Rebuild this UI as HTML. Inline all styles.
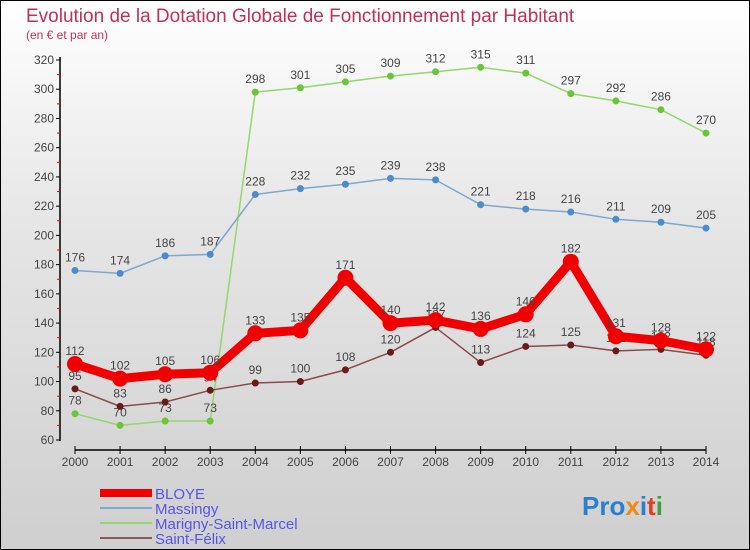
<!DOCTYPE html>
<html><head><meta charset="utf-8"><style>
body{margin:0}
#c{width:750px;height:550px;position:relative;box-sizing:border-box;border:1px solid #000;background:linear-gradient(#ffffff,#e6e6e6 40%,#cfcfcf);font-family:"Liberation Sans",sans-serif;overflow:hidden}
</style></head><body>
<div id="c">
<svg width="750" height="550" id="s" style="position:absolute;left:-1px;top:-1px">
<text x="26" y="22" font-size="19" fill="#c0305a">Evolution de la Dotation Globale de Fonctionnement par Habitant</text>
<text x="26" y="39" font-size="12" fill="#c0305a">(en € et par an)</text>
<g id="axes"></g><g id="series"></g>
<g>
<line x1="100" y1="493" x2="152" y2="493" stroke="#f00000" stroke-width="8"/>
<text x="155" y="499" font-size="15" fill="#5555ee">BLOYE</text>
<line x1="100" y1="508" x2="152" y2="508" stroke="#7fa8cc" stroke-width="2"/>
<text x="155" y="514" font-size="15" fill="#5555ee">Massingy</text>
<line x1="100" y1="523" x2="152" y2="523" stroke="#92d86a" stroke-width="2"/>
<text x="155" y="529" font-size="15" fill="#5555ee">Marigny-Saint-Marcel</text>
<line x1="100" y1="538" x2="152" y2="538" stroke="#8a5a5a" stroke-width="2"/>
<text x="155" y="544" font-size="15" fill="#5555ee">Saint-Félix</text>
</g>
<text x="582" y="515" font-size="26" font-weight="bold"><tspan fill="#2a7fd4">Pro</tspan><tspan fill="#f08a10">x</tspan><tspan fill="#2a7fd4">i</tspan><tspan fill="#e04020">t</tspan><tspan fill="#40a040">i</tspan></text>
</svg>
</div>
<script>
const years=[2000,2001,2002,2003,2004,2005,2006,2007,2008,2009,2010,2011,2012,2013,2014];
const yTicks=[60,80,100,120,140,160,180,200,220,240,260,280,300,320];
const bloye=[112,102,105,106,133,135,171,140,142,136,146,182,131,128,122];
const massingy=[176,174,186,187,228,232,235,239,238,221,218,216,211,209,205];
const marigny=[78,70,73,73,298,301,305,309,312,315,311,297,292,286,270];
const felix=[95,83,86,94,99,100,108,120,137,113,124,125,121,122,118];
const NS="http://www.w3.org/2000/svg";
const X=i=>75+i*(706-75)/14;
const Y=v=>440-(v-60)*380/260;
function mk(t,a,p){const e=document.createElementNS(NS,t);for(const k in a)e.setAttribute(k,a[k]);p.appendChild(e);return e;}
const ax=document.getElementById('axes');
let l=mk('line',{x1:60,y1:57,x2:60,y2:441,stroke:'#000','stroke-width':1.5},ax);


yTicks.forEach(v=>{
 mk('line',{x1:56,y1:Y(v),x2:60,y2:Y(v),stroke:'#000'},ax);
 if(v<320) mk('line',{x1:57,y1:Y(v+10),x2:60,y2:Y(v+10),stroke:'#f00'},ax);
 const t=mk('text',{x:54,y:Y(v)+4,'font-size':12,fill:'#444','text-anchor':'end'},ax);t.textContent=v;
 
 
});
l=mk('line',{x1:75,y1:450,x2:706,y2:450,stroke:'#000','stroke-width':1.5},ax);


years.forEach((yr,i)=>{
 mk('line',{x1:X(i),y1:446,x2:X(i),y2:454,stroke:'#000'},ax);
 const t=mk('text',{x:X(i),y:466,'font-size':12,fill:'#444','text-anchor':'middle'},ax);t.textContent=yr;
 
 
});
const sg=document.getElementById('series');
function series(d,name,col,dot,w,r){
 const g=mk('g',{},sg);
 
 
 mk('polyline',{points:d.map((v,i)=>X(i)+','+Y(v)).join(' '),fill:'none',stroke:col,'stroke-width':w,'stroke-linejoin':'round'},g);
 d.forEach((v,i)=>{
  const c=mk('circle',{cx:X(i),cy:Y(v),r:r,fill:dot},g);
  
  
  const t=mk('text',{x:X(i),y:Y(v)-9,'font-size':12,fill:'#444','text-anchor':'middle'},g);t.textContent=v;
  
  
 });
}
series(marigny,'marigny-series','#92d86a','#6cc43a',1.5,3.5);
series(massingy,'massingy-series','#7fa8cc','#4a8ccc',1.5,3.5);
series(felix,'saint-felix-series','#8a4a4a','#6a1a1a',1.5,3.5);
series(bloye,'bloye-series','#f00000','#f00000',9,8);
</script>
</body></html>
